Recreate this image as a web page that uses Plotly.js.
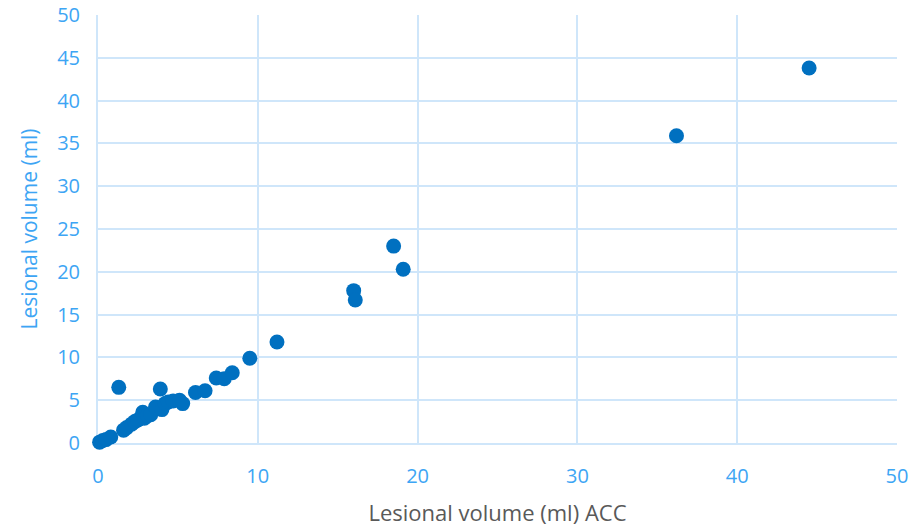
<!DOCTYPE html>
<html><head><meta charset="utf-8">
<script src="https://cdn.plot.ly/plotly-3.0.1.min.js"></script>
<style>html,body{margin:0;padding:0;background:#fff}#chart{width:920px;height:531px}</style>
</head><body><div id="chart"></div>
<script>
const accVolume = [0.1,0.3,0.5,0.8,1.3,1.6,1.8,2.1,2.3,2.5,2.8,2.9,3.1,3.3,3.6,3.9,4.0,4.2,4.4,4.7,5.1,5.3,6.1,6.7,7.4,7.9,8.4,9.5,11.2,16.0,16.1,18.5,19.1,36.2,44.5];
const lesionalVolume = [0.1,0.3,0.4,0.7,6.5,1.5,1.8,2.2,2.5,2.7,3.6,2.9,3.2,3.3,4.2,6.3,3.9,4.6,4.8,4.9,5.0,4.6,5.9,6.1,7.6,7.5,8.2,9.9,11.8,17.8,16.7,23.0,20.3,35.9,43.8];
const tickVals = [0,10,20,30,40,50];
const yTickVals = [0,5,10,15,20,25,30,35,40,45,50];

const gridCol = '#CFE6FA';
const tickFont = {family: 'Open Sans, sans-serif', size: 20, color: '#3DA5F4'};
Plotly.newPlot('chart', [{
  x: accVolume, y: lesionalVolume, type: 'scatter', mode: 'markers', cliponaxis: false,
  marker: {color: '#0070C0', size: 15}
}], {
  width: 920, height: 531,
  margin: {l: 98, r: 23, t: 15, b: 88},
  paper_bgcolor: '#fff', plot_bgcolor: '#fff',
  showlegend: false,
  xaxis: {range: [0, 50], tickvals: tickVals, showgrid: true, gridcolor: gridCol, gridwidth: 2,
    zeroline: false, showline: true, linecolor: gridCol, linewidth: 2, mirror: false, layer: 'below traces',
    tickfont: tickFont, ticks: '', ticklen: 0, ticklabelstandoff: 14,
    title: {text: 'Lesional volume (ml) ACC', font: {family: 'Open Sans, sans-serif', size: 22, color: '#595959'}, standoff: 18}},
  yaxis: {range: [0, 50], tickvals: yTickVals, showgrid: true, gridcolor: gridCol, gridwidth: 2,
    zeroline: false, showline: true, linecolor: gridCol, linewidth: 2, layer: 'below traces',
    tickfont: tickFont, ticks: '', ticklen: 0, ticklabelstandoff: 12,
    title: {text: 'Lesional volume (ml)', font: {family: 'Open Sans, sans-serif', size: 21, color: '#3DA5F4'}, standoff: 14}}
}, {displayModeBar: false, staticPlot: true});
</script></body></html>
